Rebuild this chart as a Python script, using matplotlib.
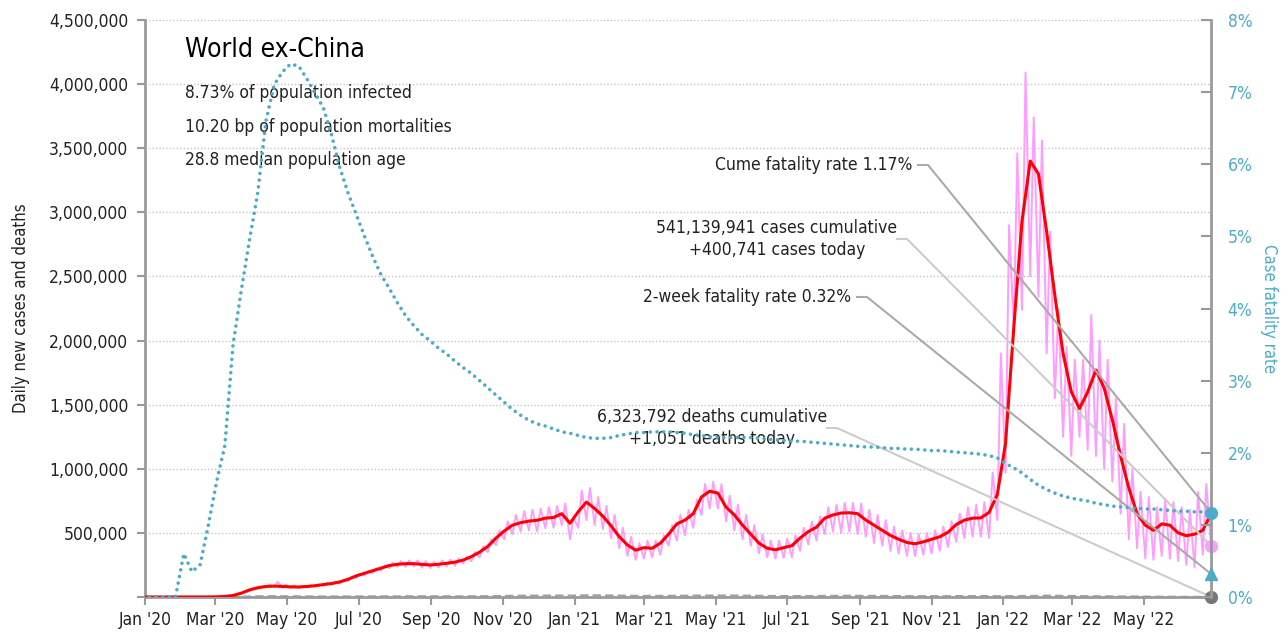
import matplotlib
matplotlib.use("Agg")
import matplotlib.pyplot as plt
import matplotlib.dates as mdates
from matplotlib.ticker import FuncFormatter, MultipleLocator
import numpy as np
import pandas as pd

plt.rcParams['font.family'] = ['DejaVu Sans']
plt.rcParams['font.stretch'] = 'condensed'

# weekly grid of Mondays, first week 2019-12-30, last 2022-06-27
week_start = '2019-12-30'
n_weeks = 131

# 7-day average of daily new cases (thousands)
avg7 = [0, 0, 0, 0, 0, 0, 0, 0, 0.5, 1.5, 4, 12, 30, 55, 72, 82, 85, 82,
        79, 78, 82, 88, 97, 105, 118, 138, 165, 185, 205, 225, 245,
        255, 260, 260, 254, 250, 255, 263, 272, 288, 315, 350, 395, 460,
        515, 560, 580, 592, 598, 615, 620, 650, 575,
        665, 740, 690, 630, 555, 470, 405, 365, 385, 380, 420, 490, 570,
        600, 650, 780, 825, 810, 700, 640, 560, 490, 420, 380, 368, 385,
        400, 460, 510, 545, 615, 640, 655, 657, 650, 600, 560, 520, 480,
        450, 425, 415, 430, 450, 470, 505, 565, 600, 615, 617, 660, 800,
        1200, 2100, 2930, 3400, 3300, 2850, 2350, 1900, 1600,
        1470, 1600, 1770, 1630, 1380, 1100, 850, 650,
        560, 520, 570, 560, 500, 478, 490, 520, 650]

# daily new cases: weekly low (Monday) and weekly high (Thursday), thousands
cases_lo = [0, 0, 0, 0, 0, 0, 0, 0, 0, 1, 3, 10, 25, 50, 66, 75, 78, 72,
            70, 70, 74, 80, 88, 95, 105, 125, 150, 170, 185, 205, 225,
            235, 235, 238, 228, 225, 230, 238, 245, 260, 280, 310, 350, 405,
            450, 490, 510, 520, 510, 535, 540, 560, 450,
            540, 600, 560, 530, 460, 380, 320, 290, 300, 310, 330, 400, 440,
            480, 540, 640, 690, 690, 590, 520, 450, 400, 340, 310, 300, 305,
            310, 360, 410, 440, 490, 510, 500, 510, 490, 470, 420, 400, 360,
            340, 320, 320, 330, 340, 360, 390, 430, 460, 470, 470, 460, 600,
            970, 2100, 2240, 2500, 2340, 1900, 1550, 1250, 1100,
            1250, 1150, 1100, 1000, 900, 650, 450, 380,
            300, 290, 320, 300, 280, 250, 230, 330, 400.741]
cases_hi = [0, 0, 0, 0, 0, 0, 0, 0, 1, 2, 6, 18, 40, 68, 84, 95, 118, 95,
            90, 88, 92, 98, 110, 120, 132, 155, 180, 200, 225, 245, 268,
            280, 285, 285, 280, 275, 285, 290, 300, 315, 350, 395, 450, 520,
            590, 640, 670, 680, 690, 700, 710, 730, 620,
            830, 850, 780, 710, 640, 540, 470, 420, 440, 440, 480, 560, 640,
            680, 760, 880, 900, 880, 790, 720, 640, 560, 490, 440, 440, 455,
            480, 540, 590, 630, 700, 720, 735, 735, 730, 680, 640, 600, 550,
            520, 500, 490, 500, 520, 550, 590, 650, 700, 720, 740, 970, 1900,
            2900, 3460, 4090, 3740, 3560, 2850, 2250, 1950, 1850,
            1850, 2200, 2000, 1850, 1550, 1350, 1000, 820,
            780, 700, 760, 740, 700, 680, 820, 880]

# daily deaths, weekly average (thousands)
deaths = [0, 0, 0, 0, 0, 0, 0, 0, 0, 0.1, 0.3, 1, 2.5, 4.5, 6, 6.5, 6.5, 6,
          5, 4.5, 4.5, 4.3, 4.3, 4.5, 4.5, 4.6, 4.8, 5, 5.3, 5.6, 5.8,
          6, 6, 6, 5.8, 5.6, 5.4, 5.4, 5.5, 5.6, 5.8, 6.2, 6.8, 7.5,
          8.5, 9.5, 10.5, 11, 11.2, 11.5, 11.8, 12, 11,
          12.5, 13.5, 13.5, 13, 12, 11, 10, 9, 8.5, 8.5, 8.7, 9.2, 10,
          10.5, 11, 11.5, 12, 12, 12, 11.5, 11, 10.5, 9.5, 8.5, 8, 7.5,
          7.3, 7.5, 8, 8.5, 9, 9.5, 10, 10, 9.8, 9.4, 9, 8.5, 8,
          7.5, 7, 7, 7, 7, 7, 7.2, 7.3, 7.2, 7, 6.8, 6.8, 6.5,
          6.5, 7, 8, 9, 10, 10.5, 10, 9, 8, 7, 6.5, 6, 5.5, 5, 4.5, 4, 3.5,
          3, 2.5, 2.3, 2, 1.8, 1.6, 1.4, 1.3, 1.051]

# cumulative case fatality rate (%)
cfr = [0, 0, 0, 0, 0, 0.6, 0.35, 0.45, 1.0, 1.6, 2.1, 3.5, 4.25, 4.95,
       5.6, 6.6, 7.1, 7.28, 7.39, 7.36, 7.18, 6.98, 6.78, 6.4, 5.95, 5.6, 5.3,
       5.0, 4.72, 4.47, 4.28, 4.08, 3.9, 3.76, 3.64, 3.55, 3.45, 3.37, 3.27, 3.18,
       3.1, 3.0, 2.9, 2.8, 2.7, 2.6, 2.52, 2.45, 2.4, 2.37, 2.33, 2.29, 2.27,
       2.24, 2.21, 2.2, 2.2, 2.21, 2.24, 2.26, 2.28, 2.28, 2.29, 2.29, 2.29, 2.28,
       2.27, 2.25, 2.24, 2.22, 2.21, 2.21, 2.21, 2.21, 2.21, 2.2, 2.19, 2.18, 2.17,
       2.16, 2.16, 2.15, 2.14, 2.13, 2.12, 2.11, 2.1, 2.09, 2.08, 2.08, 2.07, 2.06,
       2.06, 2.05, 2.05, 2.04, 2.03, 2.03, 2.02, 2.01, 2.0, 1.99, 1.98, 1.96, 1.93,
       1.85, 1.79, 1.72, 1.63, 1.55, 1.49, 1.44, 1.4, 1.37, 1.35, 1.33, 1.3, 1.28,
       1.26, 1.25, 1.24, 1.23, 1.22, 1.22, 1.21, 1.2, 1.19, 1.19, 1.18, 1.18, 1.17]

cume_cfr = 1.17
cfr_2wk = 0.32
cases_today = 400741
deaths_today = 1051

title = "World ex-China"
facts = ["8.73% of population infected",
         "10.20 bp of population mortalities",
         "28.8 median population age"]
lbl_cume = "Cume fatality rate 1.17%"
lbl_cases = "541,139,941 cases cumulative\n+400,741 cases today"
lbl_2wk = "2-week fatality rate 0.32%"
lbl_deaths = "6,323,792 deaths cumulative\n+1,051 deaths today"

TEAL = '#4bacc6'
PINK = '#ff9cff'
GRAY = '#9a9a9a'
FS = 12.5

weeks = pd.date_range(week_start, periods=n_weeks, freq='7D')
end = weeks[-1]

# pink zigzag: low on Monday, high on Thursday
pink_x, pink_y = [], []
for i, d in enumerate(weeks):
    pink_x.append(d)
    pink_y.append(cases_lo[i] * 1000)
    if i < len(cases_hi):
        pink_x.append(d + pd.Timedelta(days=3))
        pink_y.append(cases_hi[i] * 1000)

fig = plt.figure(figsize=(12.88, 6.35), dpi=100)
W, H = 1288, 635
ax = fig.add_axes([145 / W, 38 / H, 1066 / W, 577 / H])
ax2 = ax.twinx()

ax.plot(pink_x, pink_y, color=PINK, lw=1.4, zorder=2)
ax.plot(weeks, np.array(deaths) * 1000, color='#a0a0a0', lw=1.5, ls=(0, (4, 2)), zorder=2)
ax.plot(weeks, np.array(avg7) * 1000, color='#ff0000', lw=2.2, zorder=3)
ax2.plot(weeks, cfr, color=TEAL, lw=2.6, ls=(0, (0.01, 1.85)), dash_capstyle='round', zorder=3)

ax.set_xlim(pd.Timestamp('2020-01-01'), end)
ax.set_ylim(0, 4500000)
ax2.set_ylim(0, 8)

ax.yaxis.set_major_locator(MultipleLocator(500000))
ax.yaxis.set_major_formatter(FuncFormatter(lambda v, p: '' if v == 0 else f'{int(v):,}'))
ax2.yaxis.set_major_locator(MultipleLocator(1))
ax2.yaxis.set_major_formatter(FuncFormatter(lambda v, p: f'{int(round(v))}%'))
ax.xaxis.set_major_locator(mdates.MonthLocator(bymonth=[1, 3, 5, 7, 9, 11]))
ax.xaxis.set_major_formatter(mdates.DateFormatter("%b '%y"))

ax.yaxis.grid(True, color='#c4c4c4', ls=(0, (1, 1.5)), lw=1)
ax.set_axisbelow(True)

for s in ['top', 'right']:
    ax.spines[s].set_visible(False)
for s in ['top', 'left', 'bottom']:
    ax2.spines[s].set_visible(False)
for s in ['left', 'bottom']:
    ax.spines[s].set_color(GRAY)
    ax.spines[s].set_linewidth(2)
ax2.spines['right'].set_color(GRAY)
ax2.spines['right'].set_linewidth(2)

ax.tick_params(axis='y', direction='out', length=6, width=1.5, color=GRAY,
               labelsize=FS, labelcolor='#222222', pad=6)
ax.tick_params(axis='x', direction='out', length=6, width=1.5, color=GRAY,
               labelsize=FS, labelcolor='#222222', pad=4)
ax2.tick_params(axis='y', direction='in', length=7, width=1.5, color=GRAY,
                labelsize=FS, labelcolor=TEAL, pad=12)

ax.set_ylabel('Daily new cases and deaths', fontsize=12, color='#222222', labelpad=14)
ax2.set_ylabel('Case fatality rate', fontsize=12, color=TEAL, rotation=270, labelpad=18)


def fx(px):
    return (px - 145) / 1066


def fy(py):
    return (597 - py) / 577


ax.text(fx(185), fy(50), title, transform=ax.transAxes, fontsize=19,
        va='center', ha='left', color='black')
for i, f in enumerate(facts):
    ax.text(fx(185), fy(93 + 33.5 * i), f, transform=ax.transAxes, fontsize=FS,
            va='center', ha='left', color='#222222')

# end markers
ax2.plot(end, cume_cfr, 'o', ms=8.5, color=TEAL, clip_on=False, zorder=6)
ax.plot(end, cases_today, 'o', ms=8.5, color=PINK, clip_on=False, zorder=6)
ax2.plot(end, cfr_2wk, '^', ms=9, color=TEAL, clip_on=False, zorder=6)
ax.plot(end, deaths_today, 'o', ms=8.5, color='#777777', clip_on=False, zorder=6)


def to_axes(axis, y):
    disp = axis.transData.transform((mdates.date2num(end), y))
    return ax.transAxes.inverted().transform(disp)


labels = [
    (lbl_cume, 912, 165, 'right', 918, '#aaaaaa', ax2, cume_cfr),
    (lbl_cases, 777, 239, 'center', 897, '#cccccc', ax, cases_today),
    (lbl_2wk, 851, 297, 'right', 857, '#aaaaaa', ax2, cfr_2wk),
    (lbl_deaths, 712, 428, 'center', 827, '#cccccc', ax, deaths_today),
]
for txt, tx, ty, ha, lx, col, axis, val in labels:
    ax.text(fx(tx), fy(ty), txt, transform=ax.transAxes, fontsize=FS,
            ha=ha, va='center', multialignment='center', color='#222222',
            linespacing=1.3, zorder=5)
    mx, my = to_axes(axis, val)
    ax.plot([fx(lx), fx(lx + 10), mx], [fy(ty), fy(ty), my], color=col, lw=1.5,
            transform=ax.transAxes, clip_on=False, zorder=4)

fig.savefig('out.png', dpi=100)
